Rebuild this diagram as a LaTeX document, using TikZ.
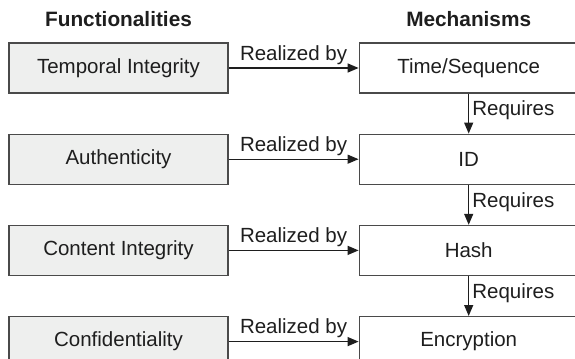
\documentclass[tikz,border=0pt]{standalone}
\usepackage{fontspec}
\setmainfont{Liberation Sans}
\usepackage{xcolor}
\usepackage{tikz}
\usetikzlibrary{arrows.meta,positioning}

\definecolor{boxgray}{HTML}{EEEFEE}
\definecolor{linegray}{HTML}{4A4A4A}
\definecolor{textgray}{HTML}{1E1E1E}

\begin{document}
\begin{tikzpicture}[
        node distance=20pt and 65pt,
        every node/.style={text=textgray},
        block/.style={
            draw=linegray,
            line width=0.6pt,
            align=center,
            minimum height=25pt,
            minimum width=109.5pt,
            font=\fontsize{10.25pt}{12pt}\selectfont
        },
        func/.style={
            block,
            fill=boxgray
        },
        head/.style={
            inner sep=0pt,
            font=\fontsize{10.4pt}{12pt}\selectfont\bfseries
        },
        lbl/.style={
            inner sep=1.5pt,
            font=\fontsize{10.25pt}{12pt}\selectfont
        },
        arrow/.style={
            -{Triangle[length=5.5pt,width=4.5pt]},
            draw=textgray,
            line width=0.65pt
        }
    ]

        \useasboundingbox (-59.25pt,34pt) rectangle (228.25pt,-145.5pt);
        \clip (-59.25pt,34pt) rectangle (228.25pt,-145.5pt);

        % functionalities
        \node[func] (temporal) {Temporal Integrity};
        \node[func, below=of temporal] (authentic) {Authenticity};
        \node[func, below=of authentic] (content) {Content Integrity};
        \node[func, below=of content] (confid) {Confidentiality};

        % mechanisms
        \node[block, right=of temporal] (time) {Time/Sequence};
        \node[block, right=of authentic] (id) {ID};
        \node[block, right=of content] (hash) {Hash};
        \node[block, right=of confid] (encrypt) {Encryption};

        \node[head, above=7.75pt of temporal] (funchead) {Functionalities};
        \node[head, above=7.75pt of time] (mechhead) {Mechanisms};

        \draw[arrow] (temporal) -- node[lbl, above] {Realized by} (time);
        \draw[arrow] (authentic) -- node[lbl, above] {Realized by} (id);
        \draw[arrow] (content) -- node[lbl, above] {Realized by} (hash);
        \draw[arrow] (confid) -- node[lbl, above] {Realized by} (encrypt);

        \draw[arrow] (time) -- node[lbl, right, yshift=1.5pt] {Requires} (id);
        \draw[arrow] (id) -- node[lbl, right, yshift=1.5pt] {Requires} (hash);
        \draw[arrow] (hash) -- node[lbl, right, yshift=1.5pt] {Requires} (encrypt);

    \end{tikzpicture}
\end{document}
